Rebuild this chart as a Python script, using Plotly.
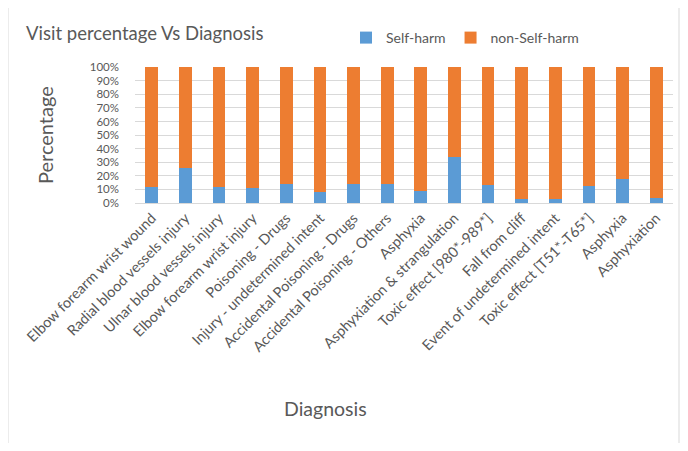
import plotly.graph_objects as go

categories = [
    "Elbow forearm wrist wound", "Radial blood vessels injury", "Ulnar blood vessels injury",
    "Elbow forearm wrist injury", "Poisoning - Drugs", "Injury - undetermined intent",
    "Accidental Poisoning - Drugs", "Accidental Poisoning - Others", "Asphyxia",
    "Asphyxiation & strangulation", "Toxic effect [980*-989*]", "Fall from cliff",
    "Event of undetermined intent", "Toxic effect [T51*-T65*]", "Asphyxia", "Asphyxiation",
]
self_harm = [0.12, 0.26, 0.12, 0.11, 0.14, 0.08, 0.14, 0.14, 0.09, 0.34, 0.13, 0.03, 0.03, 0.125, 0.18, 0.04]
non_self_harm = [1 - v for v in self_harm]
y_ticks = [i / 10 for i in range(11)]
y_tick_labels = [f"{i*10}%" for i in range(11)]

x = list(range(len(categories)))
FONT = "Lato, Open Sans, sans-serif"
GREY = "#595959"

fig = go.Figure()
fig.add_trace(go.Bar(x=x, y=self_harm, name="Self-harm", marker=dict(color="#5B9BD5", line_width=0)))
fig.add_trace(go.Bar(x=x, y=non_self_harm, name="non-Self-harm", marker=dict(color="#ED7D31", line_width=0)))

OFF = 8  # page body margin
W, H = 688 - 2 * OFF, 451 - 2 * OFF
# screen-pixel plot area
SL, SR, ST, SB = 135, 673, 67, 203
L = SL - OFF
T = ST - OFF
R = W - (SR - OFF)
B = H - (SB - OFF)
pw = W - L - R
ph = H - T - B

def px_x(p):
    return (p - OFF - L) / pw

def px_y(p):
    return (H - B - (p - OFF)) / ph

fig.update_layout(
    barmode="stack",
    bargap=0.62,
    width=W, height=H,
    margin=dict(l=L, r=R, t=T, b=B, autoexpand=False),
    paper_bgcolor="white", plot_bgcolor="white",
    font=dict(family=FONT, color=GREY, size=13),
    showlegend=True,
    legend=dict(orientation="h", x=px_x(346), y=px_y(38), xanchor="left", yanchor="middle",
                font=dict(size=14, color=GREY), traceorder="normal", itemwidth=30),
    xaxis=dict(tickmode="array", tickvals=x, ticktext=categories, tickangle=-45,
               range=[-0.5, len(categories) - 0.5], showgrid=False, zeroline=False,
               showline=True, linecolor="#d9d9d9", ticks="", automargin=False,
               tickfont=dict(size=14.5, color=GREY)),
    yaxis=dict(range=[0, 1.002], tickmode="array", tickvals=y_ticks, ticktext=y_tick_labels,
               showgrid=True, gridcolor="#d9d9d9", zeroline=False, ticks="", automargin=False,
               tickfont=dict(size=11.5, color=GREY), ticklabelstandoff=15),
    shapes=[dict(type="rect", xref="paper", yref="paper",
                 x0=px_x(8), x1=px_x(679), y0=px_y(470), y1=px_y(7),
                 line=dict(color="#d9d9d9", width=1), layer="below")],
    annotations=[
        dict(text="Visit percentage Vs Diagnosis", xref="paper", yref="paper",
             x=px_x(24), y=px_y(33), xanchor="left", yanchor="middle", showarrow=False,
             font=dict(size=18.5, color=GREY)),
        dict(text="Percentage", xref="paper", yref="paper", x=px_x(45), y=px_y(135),
             xanchor="center", yanchor="middle", textangle=-90, showarrow=False,
             font=dict(size=20, color=GREY)),
        dict(text="Diagnosis", xref="paper", yref="paper", x=px_x(325), y=px_y(408),
             xanchor="center", yanchor="middle", showarrow=False,
             font=dict(size=19.5, color=GREY)),
    ],
)

fig.write_html("out.html")
